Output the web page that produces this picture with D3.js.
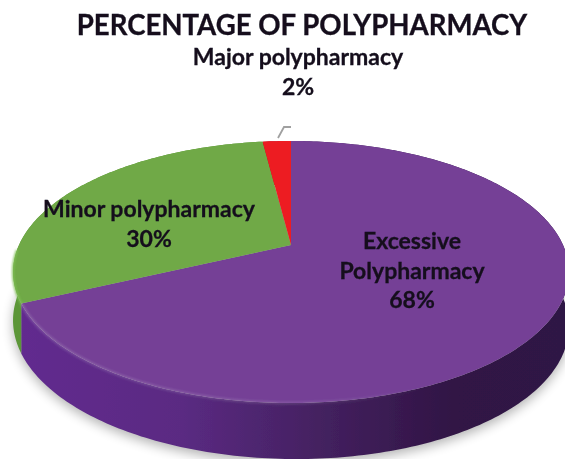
<!DOCTYPE html>
<html>
<head>
<meta charset="utf-8">
<script src="https://cdn.jsdelivr.net/npm/d3@7"></script>
<style>
    html, body { margin: 0; padding: 0; background: #fff; }
    svg { display: block; }
    text { font-family: Lato, sans-serif; font-weight: 700; text-anchor: middle; fill: #14101c; stroke: #14101c; stroke-width: 0.3; }
</style>
</head>
<body>
<div id="chart"></div>
<script>
const categories = ['Excessive Polypharmacy', 'Minor polypharmacy', 'Major polypharmacy']
const values = [68, 30, 2]
const titleText = 'PERCENTAGE OF POLYPHARMACY'

const width = 565
const height = 459
const topColors = ['#744096', '#6fa946', '#ed1c24']

const svg = d3.select('#chart').append('svg')
    .attr('width', width)
    .attr('height', height)
const defs = svg.append('defs')

const addBlur = (id, dev) => defs.append('filter').attr('id', id)
    .attr('filterUnits', 'userSpaceOnUse')
    .attr('x', 0).attr('y', 0).attr('width', width).attr('height', height)
    .append('feGaussianBlur').attr('stdDeviation', dev)
addBlur('shadow', 6)
addBlur('bevel', 1.2)
addBlur('soft', 0.45)

const wallGrad = defs.append('linearGradient').attr('id', 'wallPurple')
    .attr('gradientUnits', 'userSpaceOnUse')
    .attr('x1', 20).attr('x2', 565).attr('y1', 0).attr('y2', 0)
wallGrad.selectAll('stop')
    .data([[0, '#622b8f'], [0.3, '#5a2a82'], [0.55, '#442160'], [0.8, '#301444'], [1, '#2f1545']])
    .join('stop')
    .attr('offset', d => d[0])
    .attr('stop-color', d => d[1])

const rimGrad = defs.append('linearGradient').attr('id', 'rimLight')
    .attr('gradientUnits', 'userSpaceOnUse')
    .attr('x1', 20).attr('x2', 565).attr('y1', 0).attr('y2', 0)
rimGrad.selectAll('stop')
    .data([[0, 0.16], [0.5, 0.12], [0.75, 0.0], [1, 0.0]])
    .join('stop')
    .attr('offset', d => d[0])
    .attr('stop-color', '#ffffff')
    .attr('stop-opacity', d => d[1])

// perspective disc: unit circle -> screen, near side is bigger
const persp = -0.206
const xScale = d3.scaleLinear().domain([-1, 1]).range([291 - 272, 291 + 272])
const yScale = d3.scaleLinear().domain([-1, 1]).range([245 - 75, 245 + 75])
const depthScale = d3.scaleLinear().domain([-1, 1]).range([44, 56])

function project (angle, withDepth) {
    const u = Math.sin(angle)
    const v = -Math.cos(angle)
    const w = 1 + persp * v
    const x = xScale(0) + (xScale(u) - xScale(0)) / w
    const y = (yScale(v)) / w
    return [x, withDepth ? y + depthScale(v) + 3 * u : y]
}

const line = d3.line()
function arcPoints (start, end, withDepth) {
    const n = Math.max(2, Math.ceil((end - start) * 60))
    return d3.range(n + 1).map(i => project(start + (end - start) * i / n, withDepth))
}

const pie = d3.pie().sort(null)
const slices = pie(values)
const center = [xScale(0), yScale(0)]

// soft shadow on the page
svg.append('path')
    .attr('d', line(arcPoints(0, 2 * Math.PI, true)) + 'Z')
    .attr('fill', '#000')
    .attr('opacity', 0.3)
    .attr('transform', 'translate(0, 4)')
    .attr('filter', 'url(#shadow)')

const disc = svg.append('g').attr('filter', 'url(#soft)')

// side walls
disc.selectAll('.wall')
    .data(slices)
    .join('path')
    .attr('class', 'wall')
    .attr('d', d => line(arcPoints(d.startAngle, d.endAngle, false)
        .concat(arcPoints(d.startAngle, d.endAngle, true).reverse())) + 'Z')
    .attr('fill', (d, i) => i === 0 ? 'url(#wallPurple)' : i === 1 ? '#5b9638' : '#b5121a')

// top faces
disc.selectAll('.slice')
    .data(slices)
    .join('path')
    .attr('class', 'slice')
    .attr('d', d => line([center].concat(arcPoints(d.startAngle, d.endAngle, false))) + 'Z')
    .attr('fill', (d, i) => topColors[i])

// bevel along the near rim
const purple = slices[0]
disc.append('path')
    .attr('d', line(arcPoints(purple.startAngle + 1.0, purple.endAngle, false)))
    .attr('fill', 'none')
    .attr('stroke', 'url(#rimLight)')
    .attr('stroke-width', 3)
    .attr('filter', 'url(#bevel)')
disc.append('path')
    .attr('d', line(arcPoints(slices[1].startAngle, slices[1].startAngle + 0.4, false)))
    .attr('fill', 'none')
    .attr('stroke', '#7fbf55')
    .attr('stroke-width', 2)
    .attr('filter', 'url(#bevel)')

// leader line for the small slice
svg.append('path')
    .attr('d', line([[278, 138], [284, 127], [291, 127]]))
    .attr('fill', 'none')
    .attr('stroke', '#a0a0a0')
    .attr('stroke-width', 1.8)

const labels = svg.append('g').attr('filter', 'url(#soft)')
labels.append('text')
    .attr('x', 302).attr('y', 34.5)
    .attr('font-size', 27.6)
    .text(titleText)

const label = (x, y, size, lines) => {
    lines.forEach((t, i) => {
        labels.append('text')
            .attr('x', x).attr('y', y + i * 29.5)
            .attr('font-size', size)
            .text(t)
    })
}
const pct = i => values[i] + '%'
label(298, 65, 23, [categories[2], pct(2)])
label(149, 217, 23, [categories[1], pct(1)])
label(412, 249, 23, categories[0].split(' ').concat(pct(0)))
</script>
</body>
</html>
